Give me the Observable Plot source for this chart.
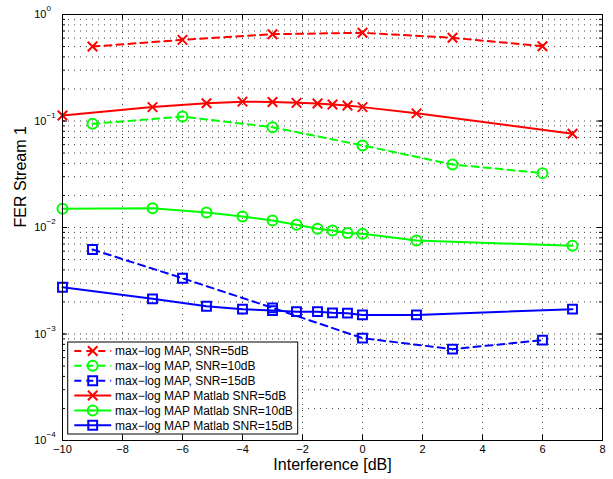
<!DOCTYPE html>
<html><head><meta charset="utf-8">
<script src="https://cdn.jsdelivr.net/npm/d3@7"></script>
<script src="https://cdn.jsdelivr.net/npm/@observablehq/plot@0.6"></script>
<style>body{margin:0;background:#fff}</style>
</head><body><div id="chart"></div>
<script>
// ---- data ----
const xDashed = [-9, -6, -3, 0, 3, 6];
const snr5Dashed  = [0.50, 0.578, 0.653, 0.673, 0.604, 0.504];
const snr10Dashed = [0.0941, 0.110, 0.0874, 0.0589, 0.0391, 0.0324];
const snr15Dashed = [0.00621, 0.00334, 0.00176, 0.000914, 0.000721, 0.000875];

const xSolid = [-10, -7, -5.2, -4, -3, -2.2, -1.5, -1, -0.5, 0, 1.8, 7];
const snr5Solid  = [0.1127, 0.135, 0.147, 0.152, 0.151, 0.148, 0.146, 0.143, 0.140, 0.135, 0.118, 0.0758];
const snr10Solid = [0.0150, 0.0152, 0.0138, 0.0127, 0.01164, 0.0106, 0.00972, 0.00937, 0.0089, 0.00873, 0.00755, 0.00673];
const snr15Solid = [0.00275, 0.00214, 0.00182, 0.00171, 0.00166, 0.00162, 0.00162, 0.00158, 0.00157, 0.00151, 0.00151, 0.00171];

const seriesNames = [
  "max\u2212log MAP, SNR=5dB",
  "max\u2212log MAP, SNR=10dB",
  "max\u2212log MAP, SNR=15dB",
  "max\u2212log MAP Matlab SNR=5dB",
  "max\u2212log MAP Matlab SNR=10dB",
  "max\u2212log MAP Matlab SNR=15dB"
];
const xTicks = [-10, -8, -6, -4, -2, 0, 2, 4, 6, 8];
const yTicks = [1, 0.1, 0.01, 0.001, 0.0001];
const yTickExponents = ["0", "\u22121", "\u22122", "\u22123", "\u22124"];
const xLabel = "Interference [dB]";
const yLabel = "FER Stream 1";

// ---- styles ----
const RED = "#ff0000", GREEN = "#00ff00", BLUE = "#0000ff";
const seriesX = [xDashed, xDashed, xDashed, xSolid, xSolid, xSolid];
const seriesY = [snr5Dashed, snr10Dashed, snr15Dashed, snr5Solid, snr10Solid, snr15Solid];
const seriesColor = [RED, GREEN, BLUE, RED, GREEN, BLUE];
const seriesDash = ["7,5", "7,5", "7,5", null, null, null];
const seriesSymbol = ["times", "circle", "square", "times", "circle", "square"];
const seriesR = {times: 4.4, circle: 5, square: 5};

const series = seriesNames.map((name, i) => ({
  name, color: seriesColor[i], dash: seriesDash[i], symbol: seriesSymbol[i],
  rows: seriesX[i].map((x, j) => ({x, y: seriesY[i][j]}))
}));

const minorY = d3.range(-4, 0).flatMap(k => d3.range(1, 10).map(m => m * Math.pow(10, k))).filter(v => v > 1.0001e-4);
const W = 613, H = 479;
const M = {top: 14, right: 11, bottom: 39, left: 62};
const PW = W - M.left - M.right, PH = H - M.top - M.bottom;
const font = "'Liberation Sans', Arial, Helvetica, sans-serif";

const dataMarks = series.flatMap(s => [
  Plot.line(s.rows, {x: "x", y: "y", stroke: s.color, strokeWidth: 2, strokeDasharray: s.dash ?? undefined}),
  Plot.dot(s.rows, {x: "x", y: "y", stroke: s.color, strokeWidth: 2, fill: "none", symbol: s.symbol, r: seriesR[s.symbol]})
]);

function legendMark(index, scales, values, dim) {
  const g = d3.create("svg:g");
  const bw = 230, bh = 92;
  const bx = dim.marginLeft + 5.7, by = dim.height - dim.marginBottom - 6 - bh;
  g.append("rect").attr("x", bx).attr("y", by).attr("width", bw).attr("height", bh)
    .attr("fill", "white").attr("stroke", "black").attr("stroke-width", 1);
  series.forEach((s, i) => {
    const cy = by + 9 + i * 14.85;
    g.append("line").attr("x1", bx + 6.6).attr("x2", bx + 43.5).attr("y1", cy).attr("y2", cy)
      .attr("stroke", s.color).attr("stroke-width", 2).attr("stroke-dasharray", s.dash);
    const cx = bx + 25;
    const r = seriesR[s.symbol];
    if (s.symbol === "circle") {
      g.append("circle").attr("cx", cx).attr("cy", cy).attr("r", r).attr("fill", "none")
        .attr("stroke", s.color).attr("stroke-width", 2);
    } else {
      const sym = s.symbol === "times" ? d3.symbolTimes : d3.symbolSquare;
      g.append("path").attr("transform", `translate(${cx},${cy})`)
        .attr("d", d3.symbol(sym, Math.PI * r * r)())
        .attr("fill", "none").attr("stroke", s.color).attr("stroke-width", 2);
    }
    g.append("text").attr("x", bx + 47.3).attr("y", cy).attr("dy", "0.36em")
      .attr("text-anchor", "start")
      .attr("font-size", 12).attr("font-family", font).attr("fill", "#000").text(s.name);
  });
  return g.node();
}

const grid = {stroke: "#444", strokeOpacity: 1, strokeWidth: 1, strokeDasharray: "1,5"};

const chart = Plot.plot({
  width: W, height: H,
  marginTop: M.top, marginRight: M.right, marginBottom: M.bottom, marginLeft: M.left,
  style: {fontFamily: font, fontSize: "11px", background: "white", color: "black"},
  x: {domain: [-10, 8], label: null},
  y: {type: "log", domain: [1e-4, 1], label: null, axis: null},
  marks: [
    Plot.gridX(xTicks.slice(1, -1), grid),
    Plot.gridY(minorY, grid),
    // inward ticks
    Plot.ruleX(xTicks, {x: d => d, insetTop: PH - 5, stroke: "black"}),
    Plot.ruleX(xTicks, {x: d => d, insetBottom: PH - 5, stroke: "black"}),
    Plot.ruleY(yTicks, {y: d => d, insetRight: PW - 5, stroke: "black"}),
    Plot.ruleY(yTicks, {y: d => d, insetLeft: PW - 5, stroke: "black"}),
    Plot.ruleY(minorY, {y: d => d, insetRight: PW - 3, stroke: "black"}),
    Plot.ruleY(minorY, {y: d => d, insetLeft: PW - 3, stroke: "black"}),
    Plot.axisX(xTicks, {tickSize: 0, tickPadding: 5, fontSize: 11, label: null}),
    Plot.text(yTicks, {y: d => d, frameAnchor: "left", dx: -16, textAnchor: "end", text: () => "10", fontSize: 11}),
    Plot.text(yTicks, {y: d => d, frameAnchor: "left", dx: -16, dy: -6, textAnchor: "start", text: (d, i) => yTickExponents[i], fontSize: 8}),
    Plot.text([xLabel], {frameAnchor: "bottom", dy: 29, fontSize: 16, text: d => d}),
    Plot.text([yLabel], {frameAnchor: "left", dx: -42, rotate: -90, fontSize: 16, text: d => d}),
    ...dataMarks,
    legendMark,
    Plot.frame({stroke: "black", strokeWidth: 1})
  ]
});
document.getElementById("chart").append(chart);
</script>
</body></html>
